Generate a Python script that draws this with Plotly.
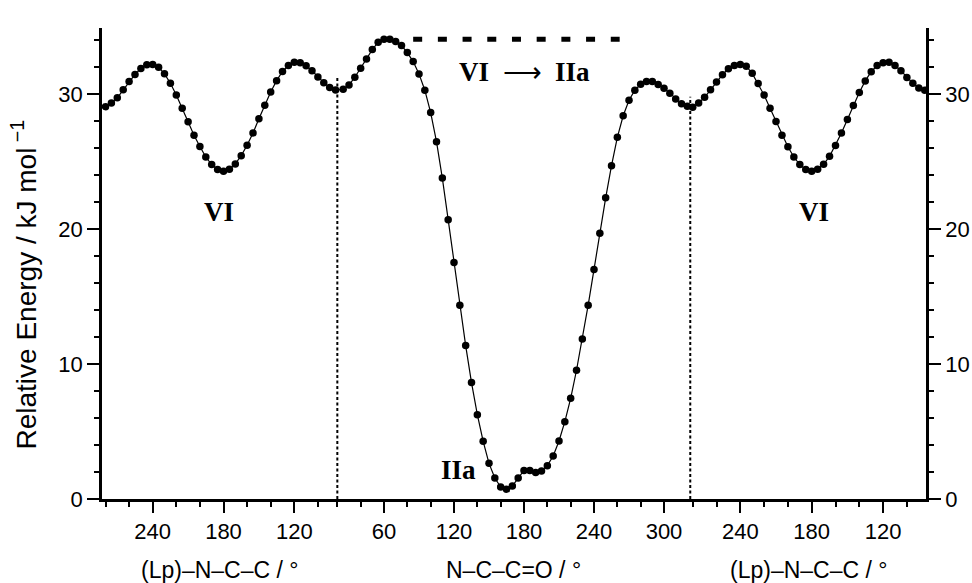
import plotly.graph_objects as go

# ---------------- data ----------------
# left block: (Lp)-N-C-C torsion (deg), energies kJ/mol
left_angle = list(range(280, 84, -5))
left_energy = [29.07, 29.34, 29.73, 30.32, 30.93, 31.46, 31.90, 32.17, 32.20, 32.00,
               31.51, 30.80, 29.93, 28.95, 27.95, 26.95, 26.12, 25.34, 24.78, 24.41,
               24.29, 24.44, 24.83, 25.44, 26.22, 27.12, 28.17, 29.17, 30.15, 31.00,
               31.68, 32.12, 32.37, 32.32, 32.10, 31.73, 31.27, 30.85, 30.49, 30.30]
# middle block: N-C-C=O torsion (deg)
mid_angle = list(range(25, 321, 5))
mid_energy = [30.36, 30.68, 31.25, 31.92, 32.61, 33.30, 33.85, 34.07, 34.07, 33.90,
              33.60, 33.08, 32.41, 31.50, 30.29, 28.63, 26.48, 23.78, 20.70, 17.53,
              14.36, 11.37, 8.63, 6.25, 4.27, 2.64, 1.55, 0.88, 0.73, 0.96,
              1.55, 2.12, 2.12, 1.97, 2.07, 2.47, 3.18, 4.30, 5.73, 7.46,
              9.54, 11.86, 14.36, 17.01, 19.70, 22.32, 24.70, 26.80, 28.40, 29.55,
              30.29, 30.73, 30.93, 30.93, 30.71, 30.44, 30.07, 29.64, 29.28, 29.10]
# right block: (Lp)-N-C-C torsion (deg)
right_angle = list(range(280, 84, -5))
right_energy = [29.02, 29.34, 29.76, 30.32, 30.90, 31.44, 31.88, 32.12, 32.20, 32.07,
                31.54, 30.78, 29.93, 28.95, 27.98, 26.95, 26.10, 25.34, 24.78, 24.41,
                24.29, 24.44, 24.80, 25.39, 26.20, 27.12, 28.12, 29.15, 30.12, 30.98,
                31.66, 32.12, 32.32, 32.37, 32.12, 31.73, 31.24, 30.80, 30.46, 30.29]

left_major = [240, 180, 120]
mid_major = [60, 120, 180, 240, 300]
right_major = [240, 180, 120]
left_minor = [280, 260, 220, 200, 160, 140, 100]
mid_minor = [20, 40, 80, 100, 140, 160, 200, 220, 260, 280]
right_minor = [280, 260, 220, 200, 160, 140, 100]

boundary_mid = [20, 322.5]          # VIIIb / VIIIa boundaries (N-C-C=O deg)
boundary_top = [31.3, 29.8]
barrier_span_mid = [85, 262]        # dashed VI -> IIa barrier line

# ------------- composite axis transforms -------------
def fl(a):
    return 152.7 + (240 - a) * 1.18

def fm(a):
    return 384 + (a - 60) * 1.1667

def fr(a):
    return 740.3 + (240 - a) * 1.19

xs = [fl(a) for a in left_angle] + [fm(a) for a in mid_angle] + [fr(a) for a in right_angle]
ys = left_energy + mid_energy + right_energy

tickvals = [fl(a) for a in left_major] + [fm(a) for a in mid_major] + [fr(a) for a in right_major]
ticktext = [str(a) for a in left_major + mid_major + right_major]
minorvals = [fl(a) for a in left_minor] + [fm(a) for a in mid_minor] + [fr(a) for a in right_minor]

XR = [102, 926]
YR = [0, 34.9]

fig = go.Figure()
fig.add_trace(go.Scatter(
    x=xs, y=ys, mode="lines+markers",
    line=dict(color="black", width=1.2),
    marker=dict(color="black", size=7.5),
    showlegend=False, hoverinfo="skip"))
fig.add_trace(go.Scatter(
    x=[XR[0], XR[1]], y=[YR[0], YR[1]], yaxis="y2", mode="markers",
    marker=dict(opacity=0), showlegend=False, hoverinfo="skip"))

# boundary dotted lines
for bm, top in zip(boundary_mid, boundary_top):
    fig.add_shape(type="line", x0=fm(bm), x1=fm(bm), y0=0, y1=top,
                  line=dict(color="black", width=2, dash="3px,2.5px"), layer="below")

# barrier dashed line at the maximum of the middle profile
peak = max(mid_energy)
fig.add_shape(type="line", x0=fm(barrier_span_mid[0]), x1=fm(barrier_span_mid[1]),
              y0=peak, y1=peak, line=dict(color="black", width=5, dash="9px,15.7px"))

sans = "Liberation Sans, Arial, sans-serif"
serif = "Liberation Serif, Times New Roman, serif"
axis_common = dict(showline=True, linecolor="black", linewidth=2.5, showgrid=False,
                   zeroline=False, ticks="outside", tickcolor="black", tickwidth=2,
                   automargin=False,
                   tickfont=dict(family=sans, size=22, color="black"))

fig.update_layout(
    width=972, height=583, autosize=False,
    margin=dict(l=102, r=46, t=28, b=84),
    plot_bgcolor="white", paper_bgcolor="white",
    xaxis=dict(range=XR, tickmode="array", tickvals=tickvals, ticktext=ticktext,
               ticklen=11, ticklabelstandoff=0,
               minor=dict(tickmode="array", tickvals=minorvals, ticklen=5,
                          tickwidth=2, tickcolor="black", ticks="outside"),
               **axis_common),
    yaxis=dict(range=YR, tickmode="array", tickvals=[0, 10, 20, 30], ticklen=12,
               ticklabelstandoff=0,
               minor=dict(dtick=2, tick0=0, ticklen=5, tickwidth=2, tickcolor="black",
                          ticks="outside"),
               **axis_common),
    yaxis2=dict(range=YR, overlaying="y", side="right", anchor="x",
                tickmode="array", tickvals=[0, 10, 20, 30], ticklen=12,
                ticklabelstandoff=0,
                minor=dict(dtick=2, tick0=0, ticklen=5, tickwidth=2, tickcolor="black",
                           ticks="outside"),
                **axis_common),
)

def lab(text, x, y, size=27):
    fig.add_annotation(text=text, x=x, y=y, xref="x", yref="y", showarrow=False,
                       font=dict(family=serif, size=size, color="black", weight="bold"),
                       xanchor="center", yanchor="middle")

ypix = lambda p: (498.6 - p) / 13.48
lab("VIIIb", 335, ypix(26))
lab("VIIIa", 690.5, ypix(25))
lab("VI\u00a0\u00a0<span style='font-weight:normal'>\u27f6</span>\u00a0\u00a0IIa", 524, ypix(72))
lab("VI", 218.7, ypix(212))
lab("VI", 814, ypix(212))
lab("IIa", 458.3, ypix(470))

# axis titles
fig.add_annotation(text="Relative Energy / kJ mol<sup> \u22121</sup>",
                   xref="paper", yref="paper", x=(24.5 - 102) / 824, y=(499 - 285) / 471,
                   textangle=-90, showarrow=False, xanchor="center", yanchor="middle",
                   font=dict(family=sans, size=28, color="black"))
for text, cx in [("(Lp)\u2013N\u2013C\u2013C / \u00b0", 219),
                 ("N\u2013C\u2013C=O / \u00b0", 513.3),
                 ("(Lp)\u2013N\u2013C\u2013C / \u00b0", 808.3)]:
    fig.add_annotation(text=text, xref="x", yref="paper", x=cx, y=(499 - 570) / 471,
                       showarrow=False, xanchor="center", yanchor="middle",
                       font=dict(family=sans, size=23, color="black"))

# remove the default 8px page margin so the figure sits at the window origin
fig.write_html("out.html", config={"displayModeBar": False},
               post_script="document.body.style.margin='0px';")
